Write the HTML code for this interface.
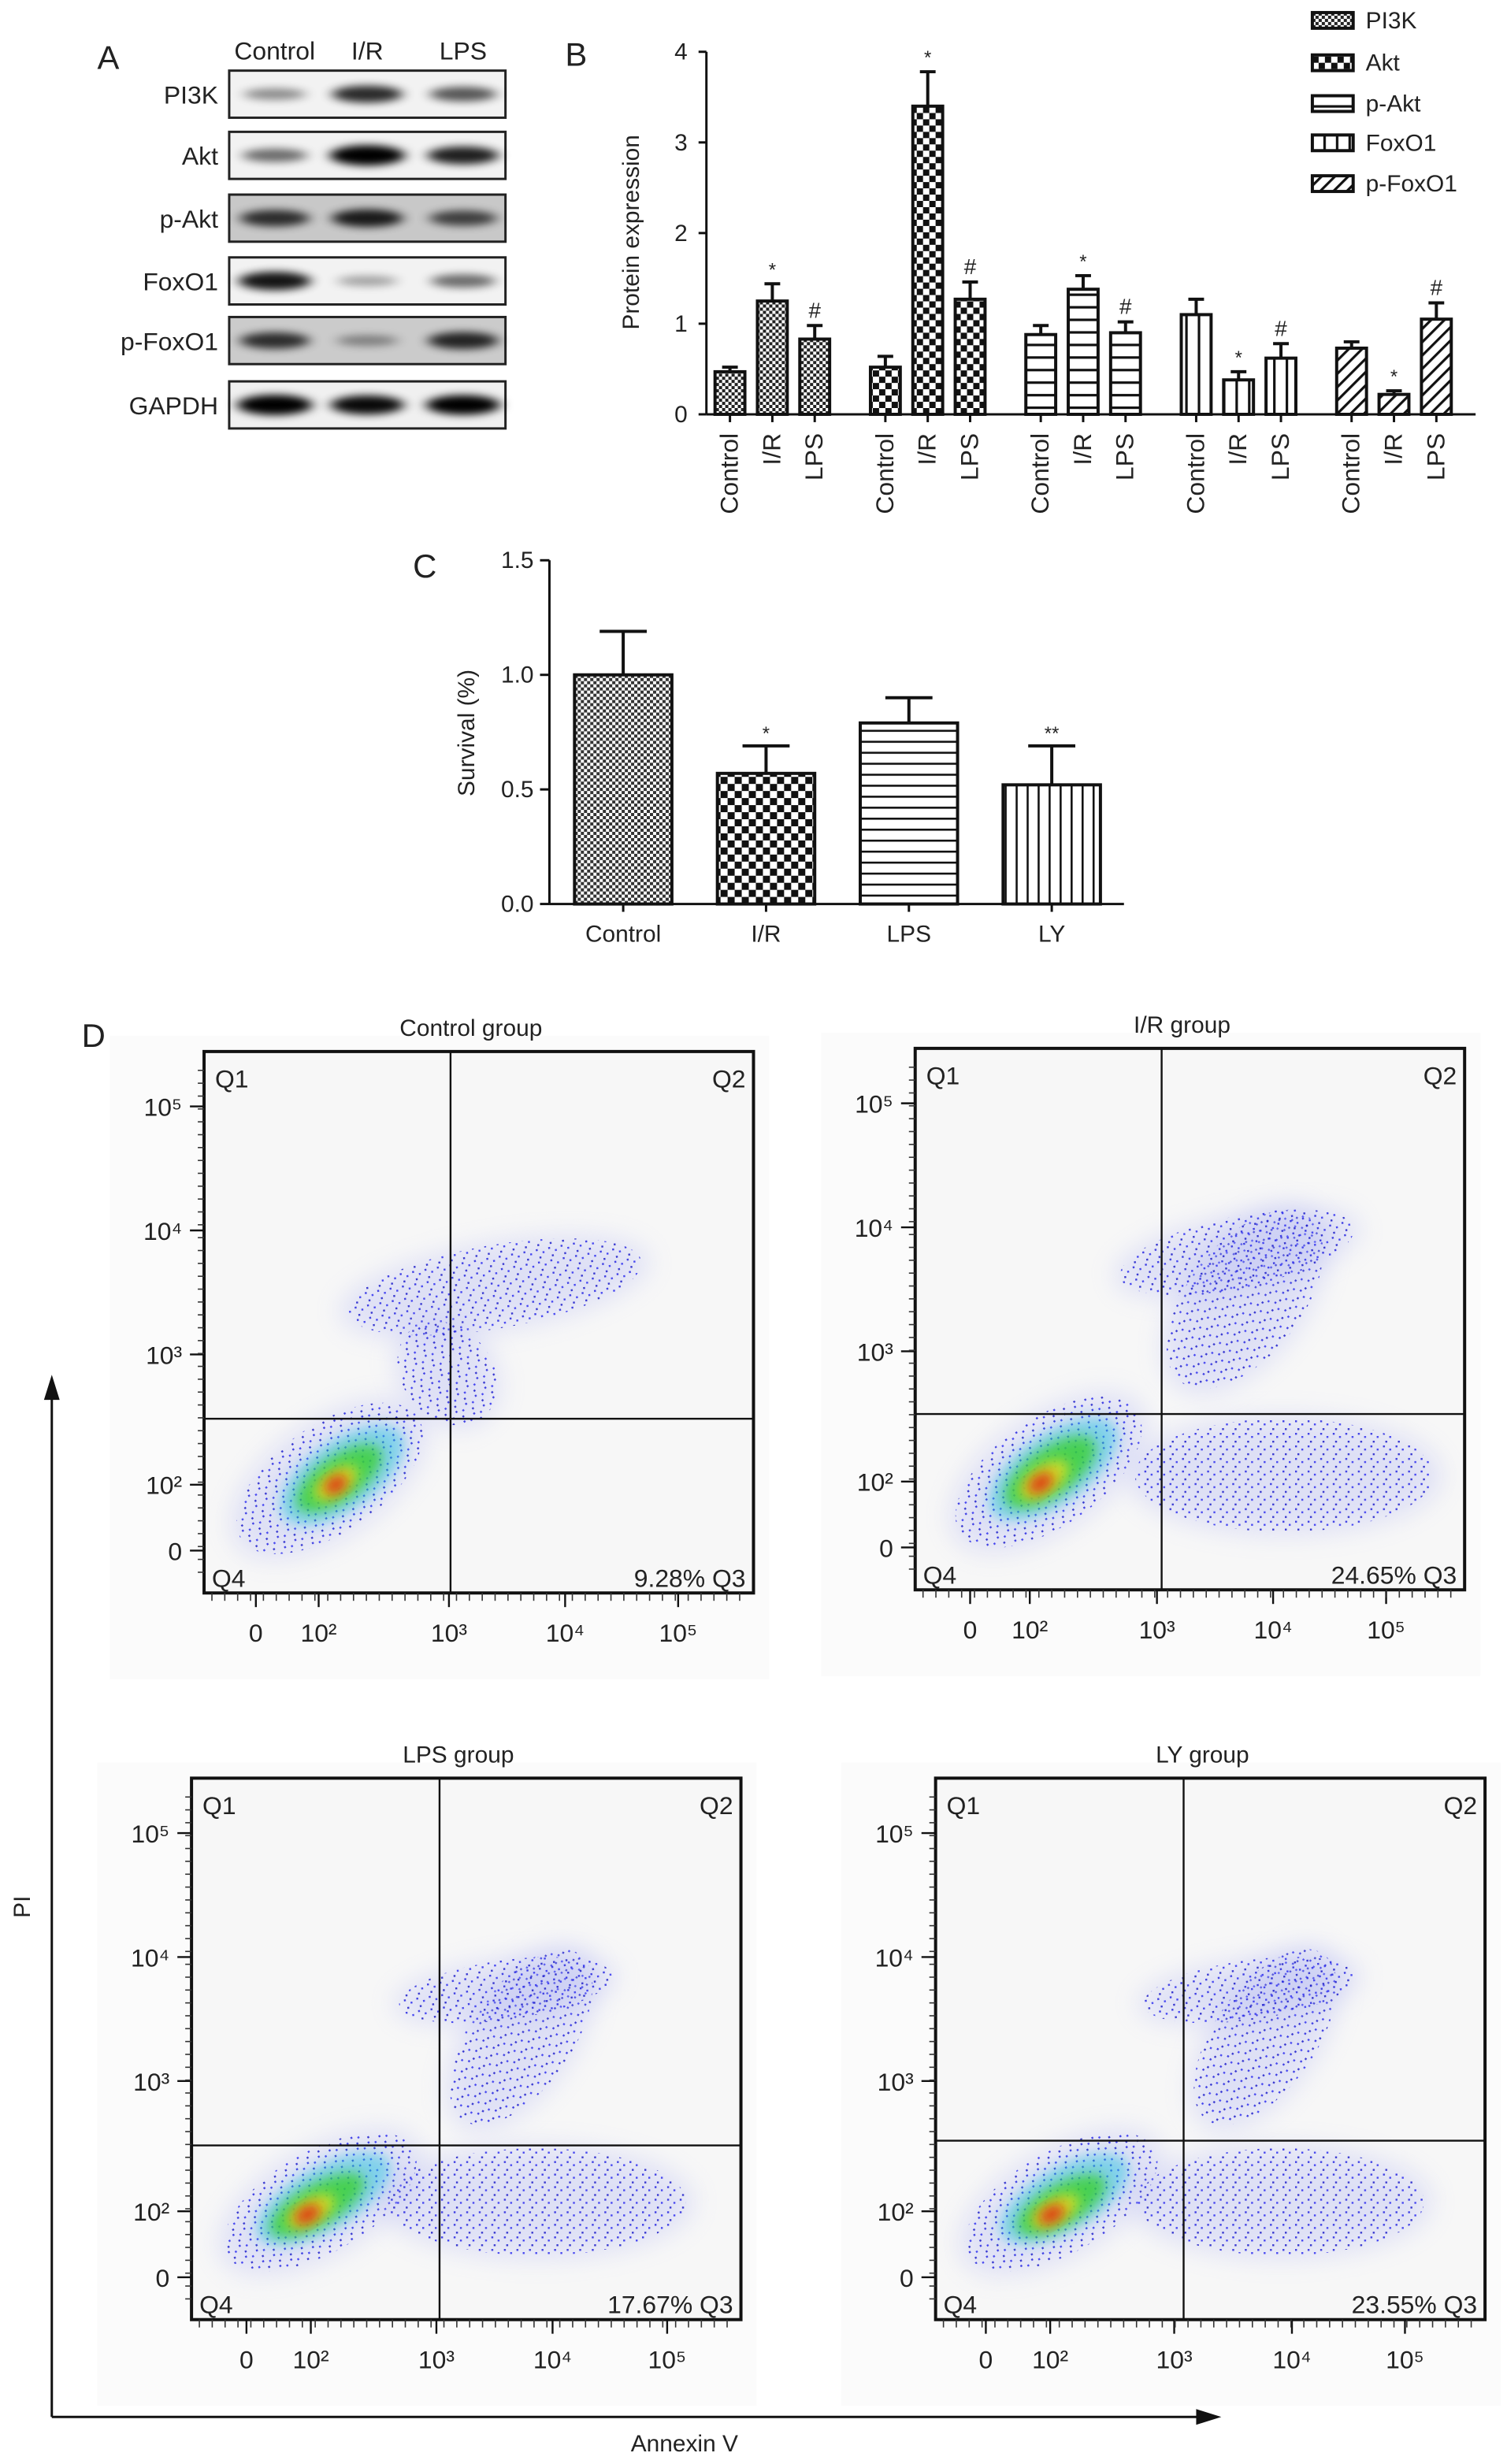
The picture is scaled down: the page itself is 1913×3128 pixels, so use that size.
<!DOCTYPE html>
<html><head><meta charset="utf-8"><style>
html,body{margin:0;padding:0;background:#fff}
svg{display:block}
text{font-family:"Liberation Sans",Arial,sans-serif;fill:#222}
</style></head><body>
<svg id="fig" width="1913" height="3128" viewBox="0 0 960 1570" preserveAspectRatio="none" xmlns="http://www.w3.org/2000/svg">
<defs>
<pattern id="pFine" width="4" height="4" patternUnits="userSpaceOnUse"><rect width="4" height="4" fill="#fff"/><rect width="2" height="2" fill="#222"/><rect x="2" y="2" width="2" height="2" fill="#222"/></pattern>
<pattern id="pCheck" width="8" height="8" patternUnits="userSpaceOnUse"><rect width="8" height="8" fill="#fff"/><rect width="4" height="4" fill="#111"/><rect x="4" y="4" width="4" height="4" fill="#111"/></pattern>
<pattern id="pHor" width="8" height="8" patternUnits="userSpaceOnUse"><rect width="8" height="8" fill="#fff"/><rect y="3" width="8" height="1.6" fill="#111"/></pattern>
<pattern id="pVer" width="8" height="8" patternUnits="userSpaceOnUse"><rect width="8" height="8" fill="#fff"/><rect x="3" width="1.6" height="8" fill="#111"/></pattern>
<pattern id="pDiag" width="6" height="6" patternUnits="userSpaceOnUse" patternTransform="rotate(45)"><rect width="6" height="6" fill="#fff"/><rect x="2" width="1.6" height="6" fill="#111"/></pattern>
<pattern id="pHorC" width="8" height="7" patternUnits="userSpaceOnUse"><rect width="8" height="7" fill="#fff"/><rect y="3" width="8" height="1.3" fill="#111"/></pattern>
<pattern id="pVerC" width="7" height="8" patternUnits="userSpaceOnUse"><rect width="7" height="8" fill="#fff"/><rect x="3" width="1.3" height="8" fill="#111"/></pattern>
<pattern id="pCheckC" width="9" height="9" patternUnits="userSpaceOnUse"><rect width="9" height="9" fill="#fff"/><rect width="4.5" height="4.5" fill="#111"/><rect x="4.5" y="4.5" width="4.5" height="4.5" fill="#111"/></pattern>
<pattern id="pFineC" width="4" height="4" patternUnits="userSpaceOnUse"><rect width="4" height="4" fill="#fff"/><rect width="2" height="2" fill="#333"/><rect x="2" y="2" width="2" height="2" fill="#333"/></pattern>
<filter id="blur4" x="-50%" y="-50%" width="200%" height="200%"><feGaussianBlur stdDeviation="4"/></filter>
<filter id="blur8" x="-50%" y="-50%" width="200%" height="200%"><feGaussianBlur stdDeviation="8"/></filter>
<filter id="bandBlur" x="-30%" y="-100%" width="160%" height="300%"><feGaussianBlur stdDeviation="4 2.5"/></filter>
<pattern id="speck" width="8" height="8" patternUnits="userSpaceOnUse"><rect width="8" height="8" fill="none"/><rect x="1" y="1" width="1.2" height="1.2" fill="#2020e0"/><rect x="5" y="3" width="1.2" height="1.2" fill="#2a2af0"/><rect x="2.5" y="6" width="1.2" height="1.2" fill="#1818c8"/></pattern>
</defs>

<g>
<text x="62" y="44" font-size="21">A</text>
<text x="175" y="38" font-size="16" text-anchor="middle">Control</text>
<text x="234" y="38" font-size="16" text-anchor="middle">I/R</text>
<text x="295" y="38" font-size="16" text-anchor="middle">LPS</text>
<g id="blots"></g>
</g>

<g id="panelB">
<text x="360" y="42" font-size="21">B</text>
<text transform="translate(407,148) rotate(-90)" font-size="15" text-anchor="middle">Protein expression</text>
</g>

<g id="panelC">
<text x="263" y="368" font-size="21">C</text>
<text transform="translate(302,467) rotate(-90)" font-size="15" text-anchor="middle">Survival (%)</text>
</g>

<g id="panelD">
<text x="52" y="667" font-size="21">D</text>
<line x1="33" y1="1540" x2="33" y2="885" stroke="#111" stroke-width="1.5"/>
<polygon points="33,876 28,892 38,892" fill="#111"/>
<line x1="33" y1="1540" x2="768" y2="1540" stroke="#111" stroke-width="1.5"/>
<polygon points="778,1540 762,1535 762,1545" fill="#111"/>
<text transform="translate(19,1215) rotate(-90)" font-size="15" text-anchor="middle">PI</text>
<text x="436" y="1562" font-size="15" text-anchor="middle">Annexin V</text>
</g>
</svg>
<script>
var NS='http://www.w3.org/2000/svg';
function mk(tag,attrs,parent){var e=document.createElementNS(NS,tag);for(var k in attrs)e.setAttribute(k,attrs[k]);(parent||document.getElementById('fig')).appendChild(e);return e;}

var blotProteins=['PI3K','Akt','p-Akt','FoxO1','p-FoxO1','GAPDH'];
var blotIntensity=[[0.3,0.75,0.55],[0.45,1,0.8],[0.7,0.8,0.6],[0.85,0.2,0.45],[0.7,0.25,0.75],[1,0.9,0.95]];
var blotBg=['#f2f2f2','#f2f2f2','#c8c8c8','#f2f2f2','#cbcbcb','#f0f0f0'];
var blotRowsY=[45,84,124,164,202,243];
var blots=document.getElementById('blots');
blotProteins.forEach(function(p,i){
  var y=blotRowsY[i];
  var r=mk('rect',{x:146,y:y,width:176,height:30,fill:blotBg[i],stroke:'#222','stroke-width':1.5},blots);
  
  
  var t=mk('text',{x:139,y:y+21,'font-size':16,'text-anchor':'end'},blots);
  t.textContent=p;
  
  
  [175,234,295].forEach(function(cx,j){
    var v=blotIntensity[i][j];
    var b=mk('ellipse',{cx:cx,cy:y+15,rx:18+6*v,ry:2.5+4*v,fill:'#000',opacity:Math.min(1,0.15+0.9*v),filter:'url(#bandBlur)'},blots);
    
    
  });
});

var bProteins=['PI3K','Akt','p-Akt','FoxO1','p-FoxO1'];
var bGroups=['Control','I/R','LPS'];
var bPI3K=[0.47,1.25,0.83];
var bAkt=[0.52,3.4,1.27];
var bPAkt=[0.88,1.38,0.9];
var bFoxO1=[1.1,0.38,0.62];
var bPFoxO1=[0.73,0.22,1.05];
var bErrPI3K=[0.05,0.19,0.15];
var bErrAkt=[0.12,0.38,0.19];
var bErrPAkt=[0.1,0.15,0.12];
var bErrFoxO1=[0.17,0.09,0.16];
var bErrPFoxO1=[0.07,0.04,0.18];
var bMarks=[['','*','#'],['','*','#'],['','*','#'],['','*','#'],['','*','#']];
var bTicks=[0,1,2,3,4];
var bFills=['url(#pFine)','url(#pCheck)','url(#pHor)','url(#pVer)','url(#pDiag)'];
(function(){
  var g=document.getElementById('panelB');
  var values=[bPI3K,bAkt,bPAkt,bFoxO1,bPFoxO1], errs=[bErrPI3K,bErrAkt,bErrPAkt,bErrFoxO1,bErrPFoxO1];
  var y0=264, yTop=33, ymax=4;
  function ys(v){return y0-(v/ymax)*(y0-yTop);}
  function xs(gi,bi){return 465+gi*99+bi*27;}
  mk('line',{x1:450,y1:ys(0),x2:450,y2:ys(4),stroke:'#111','stroke-width':1.5},g);
  mk('line',{x1:450,y1:y0,x2:940,y2:y0,stroke:'#111','stroke-width':1.5},g);
  bTicks.forEach(function(t){
    mk('line',{x1:445,y1:ys(t),x2:450,y2:ys(t),stroke:'#111','stroke-width':1.5},g);
    var tx=mk('text',{x:438,y:ys(t)+5,'font-size':15,'text-anchor':'end'},g);tx.textContent=t;
    
    
  });
  values.forEach(function(arr,gi){
    arr.forEach(function(v,bi){
      var cx=xs(gi,bi), w=19;
      var e=errs[gi][bi];
      mk('line',{x1:cx,y1:ys(v),x2:cx,y2:ys(v+e),stroke:'#111','stroke-width':2},g);
      mk('line',{x1:cx-5,y1:ys(v+e),x2:cx+5,y2:ys(v+e),stroke:'#111','stroke-width':2},g);
      var r=mk('rect',{x:cx-w/2,y:ys(v),width:w,height:y0-ys(v),fill:bFills[gi],stroke:'#111','stroke-width':2},g);
      
      
      if(bMarks[gi][bi]){var m=mk('text',{x:cx,y:ys(v+e)-5,'font-size':bMarks[gi][bi]=='*'?12:14,'text-anchor':'middle'},g);m.textContent=bMarks[gi][bi];
        
        }
      mk('line',{x1:cx,y1:y0,x2:cx,y2:y0+5,stroke:'#111','stroke-width':1.5},g);
      var lb=mk('text',{transform:'translate('+(cx+5)+','+(y0+12)+') rotate(-90)','font-size':16,'text-anchor':'end'},g);lb.textContent=bGroups[bi];
      
      
    });
  });
  bProteins.forEach(function(p,i){
    var y=[13,40,66,91,117][i];
    var r=mk('rect',{x:836,y:y-5,width:26,height:10,fill:bFills[i],stroke:'#111','stroke-width':2},g);
    
    
    var t=mk('text',{x:870,y:y+5,'font-size':15},g);t.textContent=p;
    
    
  });
})();

var cGroups=['Control','I/R','LPS','LY'];
var cSurvival=[1.0,0.57,0.79,0.52];
var cErr=[0.19,0.12,0.11,0.17];
var cMarks=['','*','','**'];
var cTicks=['0.0','0.5','1.0','1.5'];
var cFills=['url(#pFineC)','url(#pCheckC)','url(#pHorC)','url(#pVerC)'];
(function(){
  var g=document.getElementById('panelC');
  var y0=576,yTop=357,ymax=1.5;
  function ys(v){return y0-(v/ymax)*(y0-yTop);}
  function xs(i){return 397+i*91;}
  mk('line',{x1:350,y1:y0,x2:350,y2:yTop,stroke:'#111','stroke-width':1.5},g);
  mk('line',{x1:350,y1:y0,x2:716,y2:y0,stroke:'#111','stroke-width':1.5},g);
  cTicks.forEach(function(t){
    var v=parseFloat(t);
    mk('line',{x1:344,y1:ys(v),x2:350,y2:ys(v),stroke:'#111','stroke-width':1.5},g);
    var tx=mk('text',{x:340,y:ys(v)+5,'font-size':15,'text-anchor':'end'},g);tx.textContent=t;
    
    
  });
  cSurvival.forEach(function(v,i){
    var cx=xs(i),w=62,e=cErr[i];
    mk('line',{x1:cx,y1:ys(v),x2:cx,y2:ys(v+e),stroke:'#111','stroke-width':2},g);
    mk('line',{x1:cx-15,y1:ys(v+e),x2:cx+15,y2:ys(v+e),stroke:'#111','stroke-width':2},g);
    var r=mk('rect',{x:cx-w/2,y:ys(v),width:w,height:y0-ys(v),fill:cFills[i],stroke:'#111','stroke-width':2},g);
    
    
    if(cMarks[i]){var m=mk('text',{x:cx,y:ys(v+e)-4,'font-size':12,'text-anchor':'middle'},g);m.textContent=cMarks[i];
      
      }
    mk('line',{x1:cx,y1:y0,x2:cx,y2:y0+5,stroke:'#111','stroke-width':1.5},g);
    var lb=mk('text',{x:cx,y:y0+24,'font-size':15,'text-anchor':'middle'},g);lb.textContent=cGroups[i];
    
    
  });
})();

var dTitles=['Control group','I/R  group','LPS group','LY group'];
var dQ3=['9.28%','24.65%','17.67%','23.55%'];
var dYTicks=['10⁵','10⁴','10³','10²','0'];
var dXTicks=['0','10²','10³','10⁴','10⁵'];
var dBlobsControl=[[80,272,72,36,-35,0],[185,150,100,28,-10,0],[155,205,30,38,-40,0],[88,270,46,22,-35,1],[86,272,32,14,-35,2],[84,275,16,8,-35,3],[84,276,8,5,-35,4]];
var dBlobsIR=[[85,270,72,36,-35,0],[235,272,100,38,0,0],[210,160,38,70,38,0],[205,130,80,24,-12,0],[88,268,48,22,-35,1],[86,270,34,15,-35,2],[82,275,18,9,-35,3],[80,277,9,5,-35,4]];
var dBlobsLPS=[[82,270,72,34,-30,0],[220,270,100,36,0,0],[210,165,34,68,35,0],[200,135,72,20,-8,0],[84,268,48,20,-30,1],[80,272,34,13,-30,2],[76,276,17,8,-30,3],[74,278,9,5,-30,4]];
var dBlobsLY=[[80,270,72,34,-30,0],[220,270,96,36,0,0],[210,165,34,68,35,0],[200,135,72,20,-8,0],[82,268,46,20,-30,1],[80,272,32,13,-30,2],[76,276,17,8,-30,3],[74,278,9,5,-30,4]];
var dAllBlobs=[dBlobsControl,dBlobsIR,dBlobsLPS,dBlobsLY];
var dFrames=[[130,670,157,234],[583,668,157,233],[122,1133,158,234],[596,1133,158,231]];
var dXTickPos=[[33,73,156,230,302],[35,73,154,228,300],[35,76,156,230,303],[32,73,152,227,299]];
var dYTickPos=[35,114,193,276,318];
var blobColors=['#2626e8','#27c3e0','#36d020','#e6e020','#e02010'];
var blobOp=[0.55,0.5,0.75,0.85,0.95];
(function(){
  var g=document.getElementById('panelD');
  dFrames.forEach(function(f,pi){
    var x0=f[0],y0=f[1],W=350,H=345;
    var pg=mk('g',{},g);
    
    
    mk('rect',{x:x0-60,y:y0-10,width:W+70,height:H+65,fill:'#fbfbfb'},pg);
    mk('rect',{x:x0,y:y0,width:W,height:H,fill:'#f7f7f7'},pg);
    var clip=mk('clipPath',{id:'clip'+pi},pg);
    mk('rect',{x:x0,y:y0,width:W,height:H},clip);
    var bg=mk('g',{'clip-path':'url(#clip'+pi+')'},pg);
    dAllBlobs[pi].forEach(function(b){
      var cx=x0+b[0],cy=y0+b[1];
      var tr='rotate('+b[4]+' '+cx+' '+cy+')';
      if(b[5]===0){
        mk('ellipse',{cx:cx,cy:cy,rx:b[2],ry:b[3],fill:'#a8aef2',opacity:0.3,transform:tr,filter:'url(#blur8)'},bg);
        mk('ellipse',{cx:cx,cy:cy,rx:b[2]*0.95,ry:b[3]*0.95,fill:'url(#speck)',opacity:0.85,transform:tr},bg);
      } else {
        var e=mk('ellipse',{cx:cx,cy:cy,rx:b[2],ry:b[3],fill:blobColors[b[5]],opacity:blobOp[b[5]],transform:tr,filter:'url(#blur4)'},bg);
        
        
      }
    });
    mk('line',{x1:x0+f[2],y1:y0,x2:x0+f[2],y2:y0+H,stroke:'#111','stroke-width':1.2},pg);
    mk('line',{x1:x0,y1:y0+f[3],x2:x0+W,y2:y0+f[3],stroke:'#111','stroke-width':1.2},pg);
    mk('rect',{x:x0,y:y0,width:W,height:H,fill:'none',stroke:'#111','stroke-width':2},pg);
    var t=mk('text',{x:x0+170,y:y0-10,'font-size':15,'text-anchor':'middle'},pg);t.textContent=dTitles[pi];
    
    
    [['Q1',x0+7,y0+23,'start'],['Q2',x0+W-5,y0+23,'end'],['Q4',x0+5,y0+H-4,'start'],[dQ3[pi]+' Q3',x0+W-5,y0+H-4,'end']].forEach(function(q){
      var qt=mk('text',{x:q[1],y:q[2],'font-size':16,'text-anchor':q[3]},pg);qt.textContent=q[0];
      
      
    });
    dYTicks.forEach(function(lbl,i){
      var y=y0+dYTickPos[i];
      mk('line',{x1:x0-9,y1:y,x2:x0,y2:y,stroke:'#111','stroke-width':1.2},pg);
      var tx=mk('text',{x:x0-14,y:y+6,'font-size':16,'text-anchor':'end'},pg);tx.textContent=lbl;
      
      
    });
    for(var k=0;k<40;k++){mk('line',{x1:x0-4,y1:y0+12+k*8.2,x2:x0,y2:y0+12+k*8.2,stroke:'#333','stroke-width':0.8},pg);}
    dXTicks.forEach(function(lbl,i){
      var x=x0+dXTickPos[pi][i];
      mk('line',{x1:x,y1:y0+H,x2:x,y2:y0+H+9,stroke:'#111','stroke-width':1.2},pg);
      var tx=mk('text',{x:x,y:y0+H+31,'font-size':16,'text-anchor':'middle'},pg);tx.textContent=lbl;
      
      
    });
    for(var k=0;k<42;k++){mk('line',{x1:x0+5+k*8.2,y1:y0+H,x2:x0+5+k*8.2,y2:y0+H+5,stroke:'#333','stroke-width':0.8},pg);}
  });
})();
</script>
</body></html>
